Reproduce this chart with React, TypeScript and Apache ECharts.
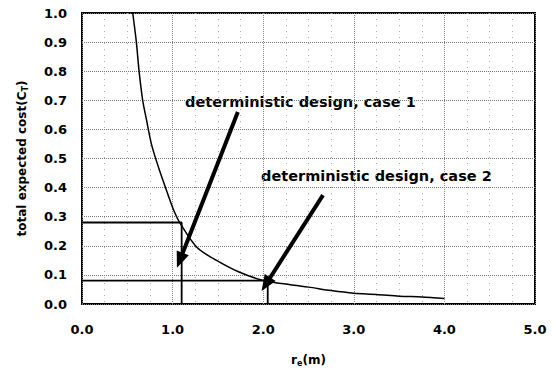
import React, { useEffect, useRef } from "react";
import * as echarts from "echarts";

const curveX = [0.56, 0.6, 0.63, 0.67, 0.71, 0.77, 0.86, 0.95, 1.01, 1.08, 1.27, 1.49, 1.74, 2.0, 2.3, 2.5, 2.75, 3.0, 3.25, 3.5, 3.75, 4.0];
const curveY = [1.0, 0.9, 0.8, 0.7, 0.636, 0.545, 0.455, 0.375, 0.324, 0.279, 0.194, 0.149, 0.109, 0.081, 0.066, 0.058, 0.046, 0.037, 0.033, 0.027, 0.024, 0.019];

const case1 = { r: 1.1, c: 0.28 };
const case2 = { r: 2.05, c: 0.08 };
const arrow1 = { from: [1.72, 0.66], to: [1.08, 0.15] };
const arrow2 = { from: [2.66, 0.374], to: [2.03, 0.068] };
const labels = ["deterministic design, case 1", "deterministic design, case 2"];

export default function App() {
  const ref = useRef<HTMLDivElement>(null);
  useEffect(() => {
    const chart = echarts.init(ref.current!, null, { renderer: "svg" });
    const font = "'DejaVu Sans', sans-serif";
    const rich = {
      r: { fontFamily: font, fontWeight: "bold", fontSize: 12, color: "#000" },
      s: { fontFamily: font, fontWeight: "bold", fontSize: 8, color: "#000", padding: [6, 0, 0, 0] },
    };
    chart.setOption({
      animation: false,
      backgroundColor: "#fff",
      grid: { left: 82, top: 13, right: 20, bottom: 65, show: true, borderColor: "#000", borderWidth: 2 },
      xAxis: {
        type: "value", min: 0, max: 5, interval: 1,
        name: "{r|r}{s|e}{r|(m)}", nameLocation: "middle", nameGap: 49,
        nameTextStyle: { rich },
        axisLine: { show: false },
        axisTick: { show: false },
        axisLabel: { formatter: (v: number) => v.toFixed(1), fontFamily: font, fontWeight: "bold", fontSize: 13, color: "#000", margin: 19 },
        splitLine: { show: true, lineStyle: { color: "#888", type: "dotted", width: 1 } },
        minorTick: { show: false, splitNumber: 4 },
        minorSplitLine: { show: true, lineStyle: { color: "#aaa", type: [1, 5], width: 1 } },
      },
      yAxis: {
        type: "value", min: 0, max: 1, interval: 0.1,
        name: "{r|total expected cost(C}{s|T}{r|)}", nameLocation: "middle", nameGap: 53, nameRotate: 90,
        nameTextStyle: { rich },
        axisLine: { show: false },
        axisTick: { show: false },
        axisLabel: { formatter: (v: number) => v.toFixed(1), fontFamily: font, fontWeight: "bold", fontSize: 13, color: "#000", margin: 15 },
        splitLine: { show: true, lineStyle: { color: "#777", type: "dotted", width: 1 } },
      },
      graphic: [
        { type: "text", left: 185, top: 94, style: { text: labels[0], font: `bold 14.5px ${font}`, fill: "#000" } },
        { type: "text", left: 261, top: 168, style: { text: labels[1], font: `bold 14.5px ${font}`, fill: "#000" } },
      ],
      series: [
        {
          type: "line", data: curveX.map((x, i) => [x, curveY[i]]), showSymbol: false, smooth: 0.3,
          lineStyle: { color: "#000", width: 1.5 },
        },
        {
          type: "line", data: [[0, case1.c], [case1.r, case1.c], [case1.r, 0]], showSymbol: false,
          lineStyle: { color: "#000", width: 1.8 },
        },
        {
          type: "line", data: [[0, case2.c], [case2.r, case2.c], [case2.r, 0]], showSymbol: false,
          lineStyle: { color: "#000", width: 1.8 },
          markLine: {
            silent: true, symbol: ["none", "triangle"], symbolSize: [13, 16],
            lineStyle: { color: "#000", width: 4, type: "solid" }, label: { show: false },
            data: [
              [{ coord: arrow1.from }, { coord: arrow1.to }],
              [{ coord: arrow2.from }, { coord: arrow2.to }],
            ],
          },
        },
      ],
    });
    return () => chart.dispose();
  }, []);
  return <div ref={ref} style={{ width: 555, height: 372, position: "absolute", left: 0, top: 0 }} />;
}
